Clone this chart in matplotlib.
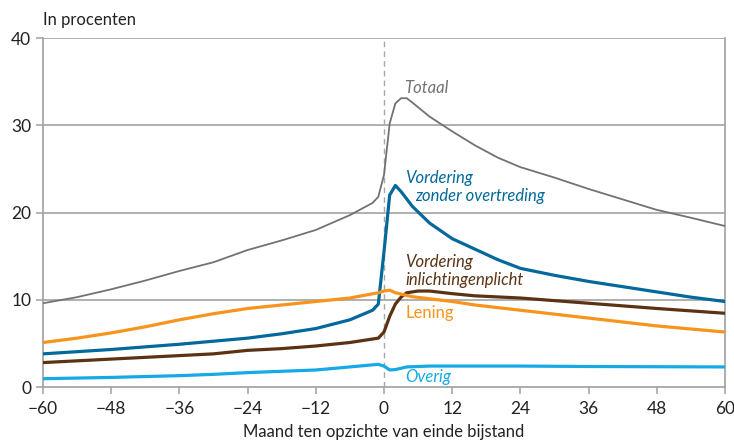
import matplotlib
matplotlib.use("Agg")
import matplotlib.pyplot as plt

plt.rcParams['font.family'] = ['Lato', 'DejaVu Sans']

tot_m = [-60, -54, -48, -42, -36, -30, -24, -18, -12, -6, -2, -1, 0, 1, 2, 3, 4, 5, 8, 12, 16, 20, 24, 30, 36, 42, 48, 54, 60]
totaal = [9.6, 10.3, 11.2, 12.2, 13.3, 14.3, 15.7, 16.8, 18.0, 19.7, 21.1, 21.8, 24.3, 30.2, 32.5, 33.1, 33.1, 32.6, 31.0, 29.3, 27.7, 26.3, 25.2, 24.0, 22.7, 21.5, 20.3, 19.4, 18.45]

zo_m = [-60, -54, -48, -42, -36, -30, -24, -18, -12, -6, -2, -1, 0, 1, 2, 3, 5, 8, 12, 16, 20, 24, 30, 36, 42, 48, 54, 60]
zonder_overtr = [3.8, 4.05, 4.3, 4.6, 4.9, 5.25, 5.6, 6.1, 6.7, 7.7, 8.8, 9.5, 15.5, 22.0, 23.1, 22.4, 20.7, 18.8, 17.0, 15.8, 14.6, 13.6, 12.8, 12.1, 11.5, 10.9, 10.3, 9.8]

inl_m = [-60, -54, -48, -42, -36, -30, -24, -18, -12, -6, -1, 0, 1, 2, 3, 4, 6, 8, 12, 16, 24, 36, 48, 60]
inlichting = [2.8, 3.0, 3.2, 3.4, 3.6, 3.8, 4.2, 4.4, 4.7, 5.1, 5.6, 6.3, 8.1, 9.5, 10.3, 10.8, 11.0, 11.0, 10.7, 10.45, 10.2, 9.6, 9.0, 8.45]

len_m = [-60, -54, -48, -42, -36, -30, -24, -18, -12, -6, -1, 0, 1, 2, 5, 12, 16, 24, 36, 48, 60]
lening = [5.1, 5.6, 6.2, 6.9, 7.7, 8.4, 9.0, 9.4, 9.8, 10.2, 10.8, 11.0, 11.1, 10.8, 10.35, 9.8, 9.4, 8.8, 7.9, 7.0, 6.3]

ov_m = [-60, -48, -36, -30, -24, -12, -6, -1, 0, 1, 2, 4, 8, 24, 36, 60]
overig = [0.95, 1.1, 1.3, 1.45, 1.65, 1.95, 2.3, 2.6, 2.4, 1.95, 2.0, 2.3, 2.4, 2.4, 2.35, 2.3]

xticks = [-60, -48, -36, -24, -12, 0, 12, 24, 36, 48, 60]
yticks = [0, 10, 20, 30, 40]

c_tot = '#727272'
c_zo = '#03699c'
c_inl = '#5b3314'
c_len = '#f7941d'
c_ov = '#15aae6'
c_axis = '#a0a0a0'

fig = plt.figure(figsize=(7.34, 4.43), dpi=100)
ax = fig.add_axes([0.0586, 0.1264, 0.9291, 0.7878])

for y in yticks[1:]:
    ax.axhline(y, color='#9a9a9a', lw=1.1, zorder=1)
ax.axvline(0, color='#a8a8a8', lw=1.0, ls=(0, (4, 3)), zorder=1)

ax.plot(ov_m, overig, color=c_ov, lw=2.3, zorder=3)
ax.plot(inl_m, inlichting, color=c_inl, lw=2.3, zorder=3)
ax.plot(zo_m, zonder_overtr, color=c_zo, lw=2.3, zorder=3)
ax.plot(len_m, lening, color=c_len, lw=2.3, zorder=4)
ax.plot(tot_m, totaal, color=c_tot, lw=1.3, zorder=3)

fs = 12
ax.text(3.6, 34.3, 'Totaal', color=c_tot, fontsize=fs, style='italic', va='center')
ax.text(3.8, 24.0, 'Vordering', color=c_zo, fontsize=fs, style='italic', va='center')
ax.text(5.5, 21.9, 'zonder overtreding', color=c_zo, fontsize=fs, style='italic', va='center')
ax.text(3.8, 14.3, 'Vordering', color=c_inl, fontsize=fs, style='italic', va='center')
ax.text(3.8, 12.3, 'inlichtingenplicht', color=c_inl, fontsize=fs, style='italic', va='center')
ax.text(3.8, 8.5, 'Lening', color=c_len, fontsize=fs, va='center')
ax.text(3.8, 1.15, 'Overig', color=c_ov, fontsize=fs, style='italic', va='center')

ax.set_xlim(-60, 60)
ax.set_ylim(0, 40)
ax.set_xticks(xticks)
ax.set_xticklabels([str(t).replace('-', '\u2212') for t in xticks])
ax.set_yticks(yticks)
ax.tick_params(axis='both', colors=c_axis, labelcolor='#222222', labelsize=12.5, length=5, width=1.1)
ax.tick_params(axis='x', pad=5)

for s in ['top']:
    ax.spines[s].set_visible(False)
for s in ['left', 'right', 'bottom']:
    ax.spines[s].set_color(c_axis)
    ax.spines[s].set_linewidth(1.2)

ax.set_xlabel('Maand ten opzichte van einde bijstand', fontsize=12, color='#222222', labelpad=5)
fig.text(0.0586, 0.955, 'In procenten', fontsize=12, color='#222222', va='center')

fig.savefig('out.png', dpi=100)
